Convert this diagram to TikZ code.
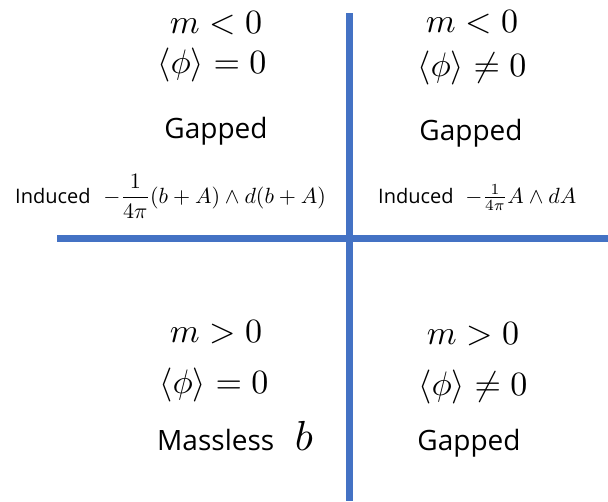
\documentclass[tikz,border=0pt]{standalone}
\usepackage{fontspec}
\setmainfont{Open Sans}
\definecolor{axisblue}{HTML}{4472C4}
\tikzset{
  axisline/.style={draw=axisblue, line width=7pt, line cap=butt},
  mathbig/.style={anchor=base, inner sep=0pt, font=\fontsize{10}{12}\selectfont, scale=3.4, transform shape},
  labelbig/.style={anchor=base, inner sep=0pt, font=\fontsize{28}{34}\selectfont},
  labelsmall/.style={anchor=base west, inner sep=0pt, font=\fontsize{20}{24}\selectfont},
  mathsmall/.style={anchor=base west, inner sep=0pt, font=\fontsize{10}{12}\selectfont, scale=2.2, transform shape},
  mathhuge/.style={anchor=base west, inner sep=0pt, font=\fontsize{10}{12}\selectfont, scale=4.2, transform shape},
}
\begin{document}
\begin{tikzpicture}[x=1pt, y=-1pt]
\useasboundingbox (0,0) rectangle (608,501);
% axes
\coordinate (vtop) at (349,13);
\coordinate (vbot) at (349,501);
\coordinate (hleft) at (57,238);
\coordinate (hright) at (608,238);
\draw[axisline] (vtop) -- (vbot);
\draw[axisline] (hleft) -- (hright);
% top-left
\node[mathbig] (tlm) at (216,33) {$m<0$};
\node[mathbig] (tlphi) at (212,73) {$\langle\phi\rangle=0$};
\node[labelbig] (tlgap) at (216,138) {Gapped};
\node[labelsmall] (tlind) at (15,203) {Induced};
\node[mathsmall] (tlmath) at (103,203) {$\displaystyle -\frac{1}{4\pi}(b+A)\wedge d(b+A)$};
% top-right
\node[mathbig] (trm) at (472,32) {$m<0$};
\node[mathbig] (trphi) at (472,76) {$\langle\phi\rangle\neq0$};
\node[labelbig] (trgap) at (471,140) {Gapped};
\node[labelsmall] (trind) at (378,203) {Induced};
\node[mathsmall] (trmath) at (465,203) {$-\frac{1}{4\pi}A\wedge dA$};
% bottom-left
\node[mathbig] (blm) at (216,342) {$m>0$};
\node[mathbig] (blphi) at (214,393) {$\langle\phi\rangle=0$};
\node[labelbig, anchor=base west] (blmass) at (157,450) {Massless};
\node[mathhuge] (blb) at (294,450) {$b$};
% bottom-right
\node[mathbig] (brm) at (473,344) {$m>0$};
\node[mathbig] (brphi) at (473,395) {$\langle\phi\rangle\neq0$};
\node[labelbig] (brgap) at (469,450) {Gapped};
\end{tikzpicture}
\end{document}
